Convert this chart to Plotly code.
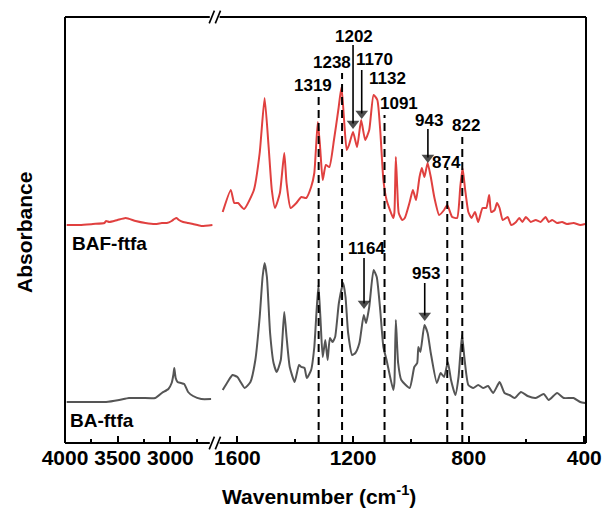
import plotly.graph_objects as go

# ---------------- data ----------------
# BAF-ftfa (red), high-wavenumber segment
baf_hi_wn = [3984, 3860, 3735, 3626, 3610, 3579, 3502, 3423, 3330, 3237, 3143, 3081, 3034,
             2988, 2963, 2941, 2919, 2879, 2832, 2785, 2707, 2600]
baf_hi_abs = [2.18, 2.18, 2.19, 2.20, 2.22, 2.21, 2.23, 2.25, 2.22, 2.20, 2.19, 2.20, 2.20,
              2.22, 2.24, 2.25, 2.23, 2.21, 2.20, 2.19, 2.17, 2.18]
# BAF-ftfa (red), fingerprint segment
baf_lo_wn = [1651, 1623, 1611, 1598, 1577, 1543, 1523, 1506, 1492, 1481, 1470, 1453, 1438, 1430,
             1416, 1396, 1379, 1362, 1345, 1334, 1322, 1314, 1305, 1294, 1282, 1266, 1251, 1240,
             1231, 1222, 1214, 1200, 1186, 1172, 1158, 1144, 1129, 1116, 1106, 1095, 1084, 1061,
             1057, 1052, 1047, 1042, 1030, 1021, 1004, 993, 982, 970, 962, 953, 942, 931, 919, 902,
             885, 874, 857, 840, 829, 821, 812, 801, 790, 778, 767, 752, 739, 729, 722, 710, 702,
             693, 682, 665, 653, 636, 625, 614, 602, 585, 568, 551, 534, 523, 511, 494, 477, 460,
             437, 414, 397]
baf_lo_abs = [2.31, 2.53, 2.40, 2.40, 2.34, 2.53, 2.90, 3.45, 2.96, 2.53, 2.35, 2.50, 2.90, 2.60,
              2.35, 2.40, 2.46, 2.45, 2.56, 2.70, 3.21, 2.96, 2.63, 2.78, 2.76, 3.03, 3.33, 3.56,
              3.23, 2.93, 2.98, 3.11, 2.96, 3.23, 3.03, 3.13, 3.48, 3.43, 3.13, 2.63, 2.43, 2.25,
              2.30, 2.86, 2.55, 2.30, 2.23, 2.25, 2.41, 2.53, 2.43, 2.66, 2.75, 2.66, 2.80, 2.66, 2.46, 2.28,
              2.33, 2.38, 2.26, 2.25, 2.56, 2.75, 2.53, 2.31, 2.25, 2.31, 2.21, 2.35, 2.35, 2.48, 2.31, 2.33, 2.40,
              2.35, 2.23, 2.26, 2.18, 2.21, 2.25, 2.21, 2.26, 2.21, 2.23, 2.21, 2.26, 2.21, 2.23, 2.20, 2.21, 2.19,
              2.20, 2.18, 2.19]

# BA-ftfa (gray), high-wavenumber segment
ba_hi_wn = [3984, 3797, 3610, 3486, 3393, 3268, 3143, 3081, 3019, 2988, 2972, 2963, 2950, 2932,
            2900, 2869, 2832, 2785, 2707, 2614]
ba_hi_abs = [0.41, 0.41, 0.41, 0.43, 0.45, 0.45, 0.45, 0.50, 0.54, 0.60, 0.68, 0.75, 0.65, 0.61,
             0.60, 0.59, 0.51, 0.47, 0.44, 0.44]
# BA-ftfa (gray), fingerprint segment
ba_lo_wn = [1651, 1634, 1617, 1600, 1589, 1575, 1555, 1538, 1523, 1513, 1506, 1498, 1487, 1475,
            1464, 1450, 1438, 1430, 1419, 1402, 1387, 1379, 1368, 1360, 1345, 1334, 1320, 1313,
            1305, 1296, 1288, 1280, 1271, 1262, 1249, 1234, 1226, 1217, 1203, 1192, 1178, 1163,
            1155, 1144, 1129, 1118, 1106, 1095, 1084, 1061, 1057, 1052, 1044, 1033, 1004, 988, 978,
            974, 967, 953, 942, 931, 910, 897, 885, 872, 861, 846, 835, 823, 815, 801, 784, 767,
            750, 733, 715, 693, 676, 659, 641, 619, 596, 568, 540, 523, 494, 471, 437, 414, 397]
ba_lo_abs = [0.53, 0.61, 0.68, 0.66, 0.61, 0.55, 0.61, 0.83, 1.26, 1.66, 1.80, 1.66, 1.10, 0.80,
             0.71, 0.83, 1.31, 1.06, 0.76, 0.61, 0.78, 0.76, 0.75, 0.65, 0.73, 0.96, 1.58, 1.26,
             0.86, 1.03, 0.83, 1.05, 1.01, 1.06, 1.40, 1.60, 1.46, 1.10, 0.88, 0.90, 1.00, 1.28,
             1.20, 1.36, 1.73, 1.66, 1.33, 0.96, 0.83, 0.53, 0.60, 1.23, 0.80, 0.63, 0.55, 0.76, 0.80,
             0.96, 0.91, 1.18, 1.10, 0.90, 0.60, 0.70, 0.66, 0.81, 0.63, 0.48, 0.66, 1.08, 0.86, 0.58, 0.55, 0.58,
             0.55, 0.57, 0.50, 0.61, 0.50, 0.48, 0.45, 0.51, 0.47, 0.45, 0.49, 0.43, 0.50, 0.45, 0.45, 0.41, 0.40]

# dashed reference lines: wavenumber and top of the line
dash_wn = [1319, 1238, 1091, 874, 822]
dash_top = [3.48, 3.70, 3.28, 2.76, 3.06]

# peak labels: text, label x (wavenumber), label y
label_text = ["1319", "1238", "1202", "1170", "1132", "1091", "943", "874", "822", "1164", "953"]
label_x = [1338, 1273, 1198, 1125, 1081, 1040, 938, 875, 810, 1154, 946]
label_y = [3.58, 3.81, 4.07, 3.84, 3.65, 3.40, 3.23, 2.81, 3.18, 1.95, 1.70]

# arrows: wavenumber, tail y, tip y
arrow_wn = [1200, 1170, 941, 1162, 952]
arrow_tail = [3.98, 3.73, 3.14, 1.85, 1.60]
arrow_tip = [3.15, 3.25, 2.81, 1.35, 1.23]

series_names = ["BAF-ftfa", "BA-ftfa"]

RED = "#E0403F"
GRAY = "#555555"
FONT = "Liberation Sans, Arial, sans-serif"

fig = go.Figure()
line_kw = dict(width=2, shape="spline", smoothing=0.5)
fig.add_trace(go.Scatter(x=baf_hi_wn, y=baf_hi_abs, mode="lines", line=dict(color=RED, **line_kw),
                         xaxis="x", yaxis="y", showlegend=False))
fig.add_trace(go.Scatter(x=baf_lo_wn, y=baf_lo_abs, mode="lines", line=dict(color=RED, **line_kw),
                         xaxis="x2", yaxis="y", showlegend=False))
fig.add_trace(go.Scatter(x=ba_hi_wn, y=ba_hi_abs, mode="lines", line=dict(color=GRAY, **line_kw),
                         xaxis="x", yaxis="y", showlegend=False))
fig.add_trace(go.Scatter(x=ba_lo_wn, y=ba_lo_abs, mode="lines", line=dict(color=GRAY, **line_kw),
                         xaxis="x2", yaxis="y", showlegend=False))

# arrows (line + triangular head)
HEAD_OFFSET = 0.045
for w, tl, tp in zip(arrow_wn, arrow_tail, arrow_tip):
    fig.add_trace(go.Scatter(x=[w, w], y=[tl, tp + HEAD_OFFSET], mode="lines+markers",
                             line=dict(color="black", width=1.6),
                             marker=dict(symbol="triangle-down", size=[0, 11], color="black",
                                         line=dict(width=0)),
                             xaxis="x2", yaxis="y", showlegend=False, hoverinfo="skip"))

shapes = []
for w, t in zip(dash_wn, dash_top):
    shapes.append(dict(type="line", xref="x2", yref="y", x0=w, x1=w, y0=0, y1=t,
                       line=dict(color="black", width=2, dash="8px,5px")))

# frame with axis break
fr = dict(color="black", width=2)
g0, g1 = 0.2779, 0.2968
shapes += [
    dict(type="line", xref="paper", yref="paper", x0=0, x1=0, y0=0, y1=1, line=fr),
    dict(type="line", xref="paper", yref="paper", x0=1, x1=1, y0=0, y1=1, line=fr),
    dict(type="line", xref="paper", yref="paper", x0=0, x1=g0, y0=1, y1=1, line=fr),
    dict(type="line", xref="paper", yref="paper", x0=g1, x1=1, y0=1, y1=1, line=fr),
    dict(type="line", xref="paper", yref="paper", x0=0, x1=g0, y0=0, y1=0, line=fr),
    dict(type="line", xref="paper", yref="paper", x0=g1, x1=1, y0=0, y1=0, line=fr),
]
for yc in (0, 1):
    for xs in (0.2768, 0.2885):
        shapes.append(dict(type="line", xref="paper", yref="paper", x0=xs, x1=xs + 0.0100,
                           y0=yc - 0.015, y1=yc + 0.015, line=dict(color="black", width=1.6)))

annotations = []
for t, x, y in zip(label_text, label_x, label_y):
    annotations.append(dict(xref="x2", yref="y", x=x, y=y, text="<b>%s</b>" % t, showarrow=False,
                            xanchor="center", yanchor="middle",
                            font=dict(family=FONT, size=17, color="black")))
annotations.append(dict(xref="x", yref="y", x=3955, y=2.00, xanchor="left", yanchor="middle",
                        text="<b>%s</b>" % series_names[0],
                        showarrow=False, font=dict(family=FONT, size=19, color="black")))
annotations.append(dict(xref="x", yref="y", x=3972, y=0.23, xanchor="left", yanchor="middle",
                        text="<b>%s</b>" % series_names[1],
                        showarrow=False, font=dict(family=FONT, size=19, color="black")))
annotations.append(dict(xref="paper", yref="paper", x=0.488, y=-0.122, xanchor="center", yanchor="middle",
                        text="<b>Wavenumber (cm<sup>-1</sup>)</b>",
                        showarrow=False, font=dict(family=FONT, size=21, color="black")))
annotations.append(dict(xref="paper", yref="paper", x=-0.079, y=0.495, xanchor="center", yanchor="middle",
                        text="<b>Absorbance</b>", textangle=-90,
                        showarrow=False, font=dict(family=FONT, size=21, color="black")))

axis_common = dict(ticks="inside", ticklen=7, tickwidth=2, tickcolor="black", showgrid=False,
                   zeroline=False, showline=False,
                   tickfont=dict(family=FONT, size=21, color="black", weight="bold"))

fig.update_layout(
    width=614, height=508,
    margin=dict(l=65, r=20, t=17, b=65),
    paper_bgcolor="white", plot_bgcolor="white",
    xaxis=dict(domain=[0, 0.2836], range=[4000, 2598], tickmode="linear", tick0=4000, dtick=500,
               minor=dict(ticks="inside", ticklen=4, tickwidth=2, tickcolor="black", dtick=250, tick0=4000),
               anchor="y", **axis_common),
    xaxis2=dict(domain=[0.2949, 1], range=[1665, 394], tickmode="linear", tick0=400, dtick=400,
                minor=dict(ticks="inside", ticklen=4, tickwidth=2, tickcolor="black", dtick=200, tick0=400),
                anchor="y", **axis_common),
    yaxis=dict(range=[0, 4.26], showticklabels=False, ticks="", showgrid=False, zeroline=False,
               showline=False),
    shapes=shapes,
    annotations=annotations,
    showlegend=False,
)

fig.write_html("out.html")
